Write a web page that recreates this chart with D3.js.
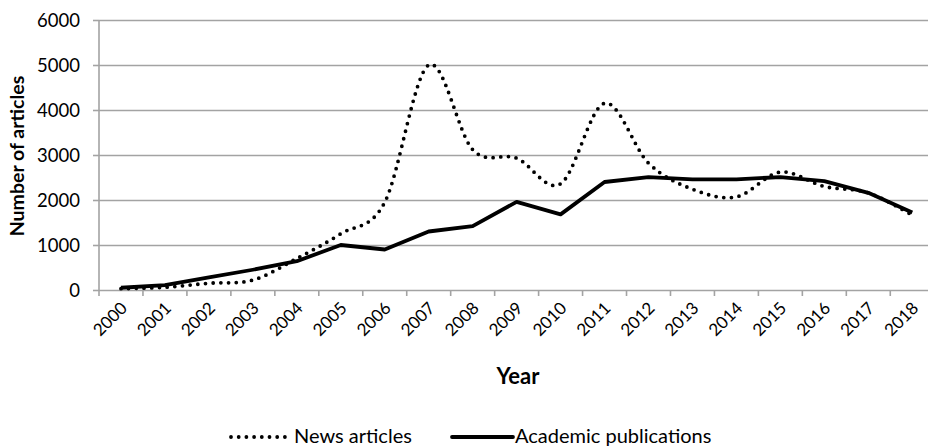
<!DOCTYPE html>
<html>
<head>
<meta charset="utf-8">
<script src="https://cdn.jsdelivr.net/npm/d3@7"></script>
<style>
  html, body { margin: 0; padding: 0; background: #fff; }
  svg { display: block; }
  text { font-family: Lato, "Open Sans", sans-serif; fill: #000; }
</style>
</head>
<body>
<svg id="chart" width="928" height="447"></svg>
<script>
// Yearly counts of articles
const years = ["2000","2001","2002","2003","2004","2005","2006","2007","2008","2009",
               "2010","2011","2012","2013","2014","2015","2016","2017","2018"];
const newsArticles = [30, 60, 150, 220, 700, 1250, 1950, 5000, 3120, 2930,
                      2360, 4150, 2820, 2240, 2070, 2620, 2300, 2160, 1660];
const academicPublications = [50, 110, 280, 450, 640, 1000, 900, 1300, 1420, 1960,
                              1680, 2400, 2510, 2460, 2460, 2510, 2420, 2160, 1720];
const yTicks = [0, 1000, 2000, 3000, 4000, 5000, 6000];

const svg = d3.select("#chart");
const plotLeft = 99, plotTop = 20, plotBottom = 290;
const step = 43.96;

const x = d3.scaleBand().domain(years).range([plotLeft, plotLeft + step * years.length]).padding(0);
const y = d3.scaleLinear().domain([0, 6000]).range([plotBottom, plotTop]);
const gridColor = "#a3a3a3";

// horizontal gridlines with short outward ticks on the left
const yAxis = svg.append("g")
  .attr("transform", `translate(${plotLeft},0)`)
  .call(d3.axisLeft(y).tickValues(yTicks).tickSize(6).tickPadding(13).tickFormat(d3.format("d")));
yAxis.select(".domain").remove();
yAxis.selectAll(".tick line").attr("stroke", gridColor).attr("stroke-width", 1.6);
yAxis.selectAll(".tick").append("line")
  .attr("x1", 0).attr("x2", 928)
  .attr("stroke", gridColor).attr("stroke-width", 1.6);
yAxis.selectAll(".tick text")
  .style("font-size", "18.5px").style("font-family", "Lato, sans-serif").attr("dy", "0.35em");

// vertical axis line
svg.append("line")
  .attr("x1", plotLeft).attr("x2", plotLeft).attr("y1", plotTop).attr("y2", plotBottom)
  .attr("stroke", gridColor).attr("stroke-width", 1.6);

// category boundary ticks along the bottom
const boundaries = years.map(d => x(d));
svg.append("g").selectAll("line").data(boundaries).join("line")
  .attr("x1", d => d).attr("x2", d => d)
  .attr("y1", plotBottom).attr("y2", plotBottom + 6)
  .attr("stroke", gridColor).attr("stroke-width", 1.6);

// rotated year labels
svg.append("g").selectAll("text").data(years).join("text")
  .attr("transform", d => `translate(${x(d) + x.bandwidth() / 2 + 3},${plotBottom + 15}) rotate(-45)`)
  .attr("text-anchor", "end")
  .attr("dy", "0.35em")
  .style("font-size", "17px")
  .text(d => d);

// series lines
const cx = (d, i) => x(years[i]) + x.bandwidth() / 2;

svg.append("path")
  .attr("d", d3.line().x(cx).y(d => y(d)).curve(d3.curveCardinal.tension(0))(newsArticles))
  .attr("fill", "none").attr("stroke", "#000")
  .attr("stroke-width", 3.8)
  .attr("stroke-linecap", "round")
  .attr("stroke-dasharray", "0,7.7");

svg.append("path")
  .attr("d", d3.line().x(cx).y(d => y(d))(academicPublications))
  .attr("fill", "none").attr("stroke", "#000")
  .attr("stroke-width", 3.8)
  .attr("stroke-linejoin", "round");

// axis titles
svg.append("text")
  .attr("x", 518).attr("y", 384)
  .attr("text-anchor", "middle")
  .style("font-size", "22px").style("font-weight", "bold")
  .text("Year");

svg.append("text")
  .attr("transform", "translate(24,156) rotate(-90)")
  .attr("text-anchor", "middle")
  .style("font-size", "19.5px").style("font-weight", "bold")
  .text("Number of articles");

// legend
const legendY = 437;
svg.append("line")
  .attr("x1", 231).attr("x2", 287).attr("y1", legendY).attr("y2", legendY)
  .attr("stroke", "#000").attr("stroke-width", 3.8)
  .attr("stroke-linecap", "round").attr("stroke-dasharray", "0,7.7");
svg.append("text")
  .attr("x", 294).attr("y", 443)
  .style("font-size", "20px")
  .text("News articles");
svg.append("line")
  .attr("x1", 452).attr("x2", 513).attr("y1", legendY).attr("y2", legendY)
  .attr("stroke", "#000").attr("stroke-width", 3.8).attr("stroke-linecap", "round");
svg.append("text")
  .attr("x", 515).attr("y", 443)
  .style("font-size", "20px")
  .text("Academic publications");
</script>
</body>
</html>
